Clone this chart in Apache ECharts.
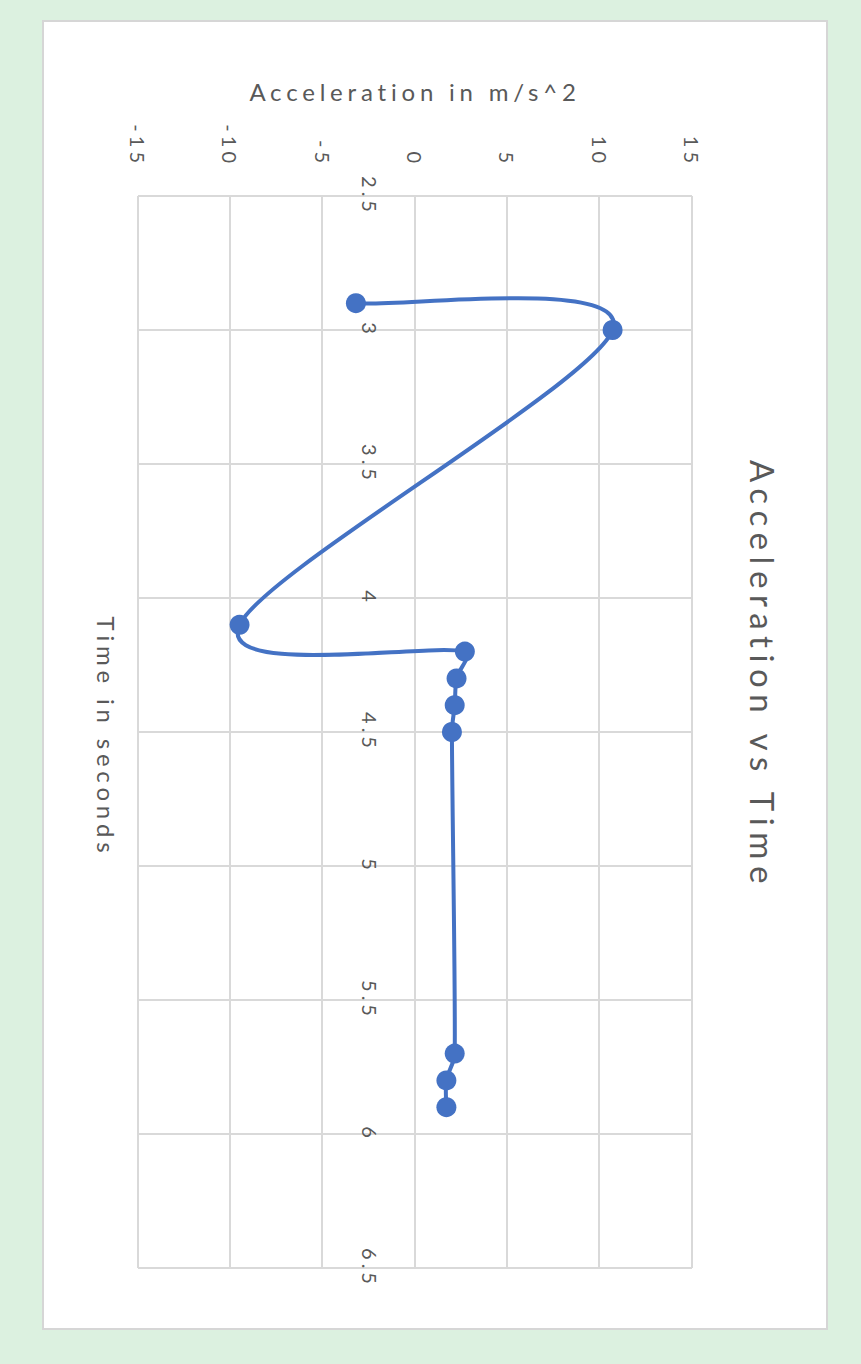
<!DOCTYPE html>
<html>
<head>
<meta charset="utf-8">
<script src="https://cdn.jsdelivr.net/npm/echarts@6/dist/echarts.min.js"></script>
<style>
html,body{margin:0;padding:0;background:#dcf1e0;width:861px;height:1364px;overflow:hidden;}
#chart{position:absolute;left:0;top:0;width:1310px;height:786px;transform-origin:0 0;
  transform:translate(828px,20px) rotate(90deg);background:#ffffff;
  box-shadow:inset 0 0 0 2px #d6d6d6;}
#chart text{letter-spacing:0.2em;}
</style>
</head>
<body>
<div id="chart"></div>
<script>
// Data
const timeSec = [2.9, 3.0, 4.1, 4.2, 4.3, 4.4, 4.5, 5.7, 5.8, 5.9];
const accel   = [-3.2, 10.7, -9.5, 2.7, 2.25, 2.15, 2.0, 2.15, 1.7, 1.7];
const timeAxis = {min: 2.5, max: 6.5, interval: 0.5};
const accelAxis = {min: -15, max: 15, interval: 5};
const titleText = 'Acceleration vs Time';
const xName = 'Time in seconds';
const yName = 'Acceleration in m/s^2';

const LINE = '#4472c4';
const TXT = '#595959';
const GRIDC = '#d9d9d9';
const FONT = 'Lato';

function renderSmooth(params, api) {
  const n = timeSec.length;
  const i = params.dataIndex;
  if (i >= n - 1) return null;
  const P = j => { const c = Math.max(0, Math.min(n - 1, j)); return api.coord([timeSec[c], accel[c]]); };
  const p0 = P(i - 1), p1 = P(i), p2 = P(i + 1), p3 = P(i + 2);
  const k = 1 / 6, lim = 1 / 3;
  const seg = Math.hypot(p2[0] - p1[0], p2[1] - p1[1]);
  function cp(base, a, b, sign) {
    let tx = (b[0] - a[0]) * k, ty = (b[1] - a[1]) * k;
    const len = Math.hypot(tx, ty);
    if (len > seg * lim && len > 0) { const s = seg * lim / len; tx *= s; ty *= s; }
    return [base[0] + sign * tx, base[1] + sign * ty];
  }
  const c1 = cp(p1, p0, p2, 1);
  const c2 = cp(p2, p1, p3, -1);
  return {
    type: 'bezierCurve',
    shape: {x1: p1[0], y1: p1[1], x2: p2[0], y2: p2[1], cpx1: c1[0], cpy1: c1[1], cpx2: c2[0], cpy2: c2[1]},
    style: {stroke: LINE, lineWidth: 4, fill: 'none', lineCap: 'round'}
  };
}

const pts = timeSec.map((t, i) => [t, accel[i]]);
const chart = echarts.init(document.getElementById('chart'), null, {renderer: 'svg', width: 1310, height: 786});
chart.setOption({
  backgroundColor: 'transparent',
  animation: false,
  textStyle: {fontFamily: FONT},
  title: [{
    text: titleText, left: 'center', top: 44,
    textStyle: {fontFamily: FONT, fontWeight: 'normal', fontSize: 33, color: TXT}
  }, {
    text: xName, left: 712, textAlign: 'center', top: 705,
    textStyle: {fontFamily: FONT, fontWeight: 'normal', fontSize: 24, color: TXT}
  }],
  grid: {left: 176, right: 62, top: 136, bottom: 96},
  xAxis: {
    type: 'value', min: timeAxis.min, max: timeAxis.max, interval: timeAxis.interval,
    position: 'bottom',
    axisLine: {show: false, onZero: false},
    axisTick: {show: false},
    // labels sit next to the zero line, as in the reference
    axisLabel: {margin: -242, fontSize: 20, color: TXT, fontFamily: FONT},
    splitLine: {show: true, lineStyle: {color: GRIDC, width: 2}}
  },
  yAxis: {
    type: 'value', min: accelAxis.min, max: accelAxis.max, interval: accelAxis.interval,
    axisLine: {show: false}, axisTick: {show: false},
    axisLabel: {margin: 29, fontSize: 20, color: TXT, fontFamily: FONT},
    splitLine: {show: true, lineStyle: {color: GRIDC, width: 2}},
    name: yName, nameLocation: 'middle', nameGap: 93, nameRotate: 90,
    nameTextStyle: {fontSize: 24, color: TXT, fontFamily: FONT}
  },
  series: [{
    type: 'custom', data: pts, renderItem: renderSmooth, z: 2
  }, {
    type: 'scatter', data: pts, symbol: 'circle', symbolSize: 20,
    itemStyle: {color: LINE, opacity: 1}, z: 3
  }]
});
</script>
</body>
</html>
